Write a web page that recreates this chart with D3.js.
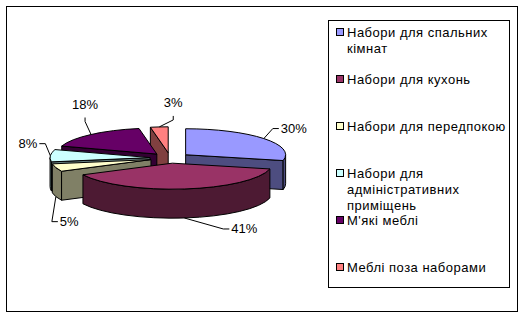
<!DOCTYPE html>
<html>
<head>
<meta charset="utf-8">
<script src="https://cdn.jsdelivr.net/npm/d3@7"></script>
<style>
  body { margin: 0; background: #fff; }
  text { font-family: "Liberation Sans", Arial, sans-serif; font-size: 13px; fill: #000; }
  .legend text { letter-spacing: 0.5px; }
</style>
</head>
<body>
<div id="chart"></div>
<script>
// ─── Daten ────────────────────────────────────────────────────────────────────
const categories = [
  'Набори для спальних кімнат',
  'Набори для кухонь',
  'Набори для передпокою',
  'Набори для адміністративних приміщень',
  "М'які меблі",
  'Меблі поза наборами',
];
const shares = [30, 41, 5, 8, 18, 3];
const shareLabels = shares.map(v => `${v}%`);

// Excel-Palette
const colors = ['#9999FF', '#993366', '#FFFFCC', '#CCFFFF', '#660066', '#FF8080'];

// ─── Layout ───────────────────────────────────────────────────────────────────
const W = 524, H = 317;
const pie3d = { cx: 170, cy: 158, rx: 100, ry: 26, depth: 29, explode: 20 };

// Leader-Lines: Verschiebung vom Anker am Rand (wie in Excel von Hand gezogen)
const labelLayout = [
  { dx: 9,  dy: -10, side: 'right' },
  { dx: 39, dy: 11,  side: 'right' },
  { dx: -4, dy: 25,  side: 'right' },
  { dx: -5, dy: -12, side: 'left'  },
  { dx: -6, dy: -13, side: 'up'    },
  { dx: 14, dy: -7,  side: 'up'    },
];

const svg = d3.select('#chart').append('svg')
  .attr('width', W)
  .attr('height', H);

svg.append('rect')
  .attr('x', 6.5).attr('y', 6.5)
  .attr('width', 511).attr('height', 305)
  .attr('fill', '#fff').attr('stroke', '#000');

const shade = c => { const k = d3.rgb(c); return d3.rgb(k.r * 0.5, k.g * 0.5, k.b * 0.5).toString(); };

const arcs = d3.pie().sort(null).value(d => d)(shares)
  .map((a, i) => {
    const mid = (a.startAngle + a.endAngle) / 2;
    const c = {
      x: pie3d.cx + pie3d.explode * Math.sin(mid),
      y: pie3d.cy - pie3d.explode * (pie3d.ry / pie3d.rx) * Math.cos(mid),
    };
    return { ...a, i, mid, c };
  });

const rim = (c, t, dy = 0) => [c.x + pie3d.rx * Math.sin(t), c.y - pie3d.ry * Math.cos(t) + dy];

function topPath(a) {
  const p0 = rim(a.c, a.startAngle), p1 = rim(a.c, a.endAngle);
  const large = a.endAngle - a.startAngle > Math.PI ? 1 : 0;
  return `M${a.c.x},${a.c.y}L${p0}A${pie3d.rx},${pie3d.ry} 0 ${large} 1 ${p1}Z`;
}

function wallPath(a) {
  const t0 = Math.max(a.startAngle, Math.PI / 2);
  const t1 = Math.min(a.endAngle, 3 * Math.PI / 2);
  if (t1 <= t0) return null;
  const h = pie3d.depth;
  const p0 = rim(a.c, t0), p1 = rim(a.c, t1);
  const q0 = rim(a.c, t0, h), q1 = rim(a.c, t1, h);
  return `M${p0}A${pie3d.rx},${pie3d.ry} 0 0 1 ${p1}L${q1}A${pie3d.rx},${pie3d.ry} 0 0 0 ${q0}Z`;
}

function cutPath(a, t) {
  const h = pie3d.depth;
  const p = rim(a.c, t), q = rim(a.c, t, h);
  return `M${a.c.x},${a.c.y}L${p}L${q}L${a.c.x},${a.c.y + h}Z`;
}

// von hinten nach vorne zeichnen
const order = arcs.slice().sort((a, b) => -Math.cos(a.mid) + Math.cos(b.mid));

const gPie = svg.append('g');
order.forEach(a => {
  const g = gPie.append('g');
  const side = shade(colors[a.i]);
  // Schnittflächen, nur die sichtbaren
  if (Math.sin(a.startAngle) < -1e-6) {
    g.append('path').attr('d', cutPath(a, a.startAngle))
      .attr('fill', side).attr('stroke', '#000').attr('stroke-linejoin', 'round');
  }
  if (Math.sin(a.endAngle) > 1e-6) {
    g.append('path').attr('d', cutPath(a, a.endAngle))
      .attr('fill', side).attr('stroke', '#000').attr('stroke-linejoin', 'round');
  }
  const w = wallPath(a);
  if (w) {
    g.append('path').attr('d', w)
      .attr('fill', side).attr('stroke', '#000').attr('stroke-linejoin', 'round');
  }
  g.append('path').attr('d', topPath(a))
    .attr('fill', colors[a.i]).attr('stroke', '#000').attr('stroke-linejoin', 'round');
});

// ─── Datenbeschriftungen ─────────────────────────────────────────────────────
const gLab = svg.append('g');
arcs.forEach(a => {
  const front = Math.cos(a.mid) < 0 ? pie3d.depth : 0;
  const anchor = rim(a.c, a.mid, front);
  const L = labelLayout[a.i];
  const elbow = [anchor[0] + L.dx, anchor[1] + L.dy];
  let end, tx, ty, ta;
  if (L.side === 'up') {
    end = [elbow[0], elbow[1] - 4];
    tx = end[0]; ty = end[1] - 9; ta = 'middle';
  } else {
    const s = L.side === 'right' ? 1 : -1;
    end = [elbow[0] + s * 6, elbow[1]];
    tx = end[0] + s * 2; ty = end[1] + 4.5; ta = s > 0 ? 'start' : 'end';
  }
  gLab.append('polyline')
    .attr('points', [anchor, elbow, end].map(p => p.join(',')).join(' '))
    .attr('fill', 'none').attr('stroke', '#000');
  gLab.append('text')
    .attr('x', tx).attr('y', ty)
    .attr('text-anchor', ta)
    .text(shareLabels[a.i]);
});

// ─── Legende ─────────────────────────────────────────────────────────────────
const legend = svg.append('g').attr('class', 'legend');
legend.append('rect')
  .attr('x', 328.5).attr('y', 20.5)
  .attr('width', 181).attr('height', 267)
  .attr('fill', '#fff').attr('stroke', '#000');

const yLegend = d3.scalePoint().domain(categories).range([32, 267]);
const maxText = 160;

categories.forEach((name, i) => {
  const y = yLegend(name);
  legend.append('rect')
    .attr('x', 336.5).attr('y', y - 3.5)
    .attr('width', 7).attr('height', 7)
    .attr('fill', colors[i]).attr('stroke', '#000');

  const t = legend.append('text').attr('x', 347).attr('y', y + 4.5);
  // Zeilenumbruch nach Breite
  const words = name.split(' ');
  let line = [];
  let span = t.append('tspan').attr('x', 347).attr('dy', 0);
  words.forEach(wd => {
    line.push(wd);
    span.text(line.join(' '));
    if (span.node().getComputedTextLength() > maxText && line.length > 1) {
      line.pop();
      span.text(line.join(' '));
      line = [wd];
      span = t.append('tspan').attr('x', 347).attr('dy', 16).text(wd);
    }
  });
});
</script>
</body>
</html>
